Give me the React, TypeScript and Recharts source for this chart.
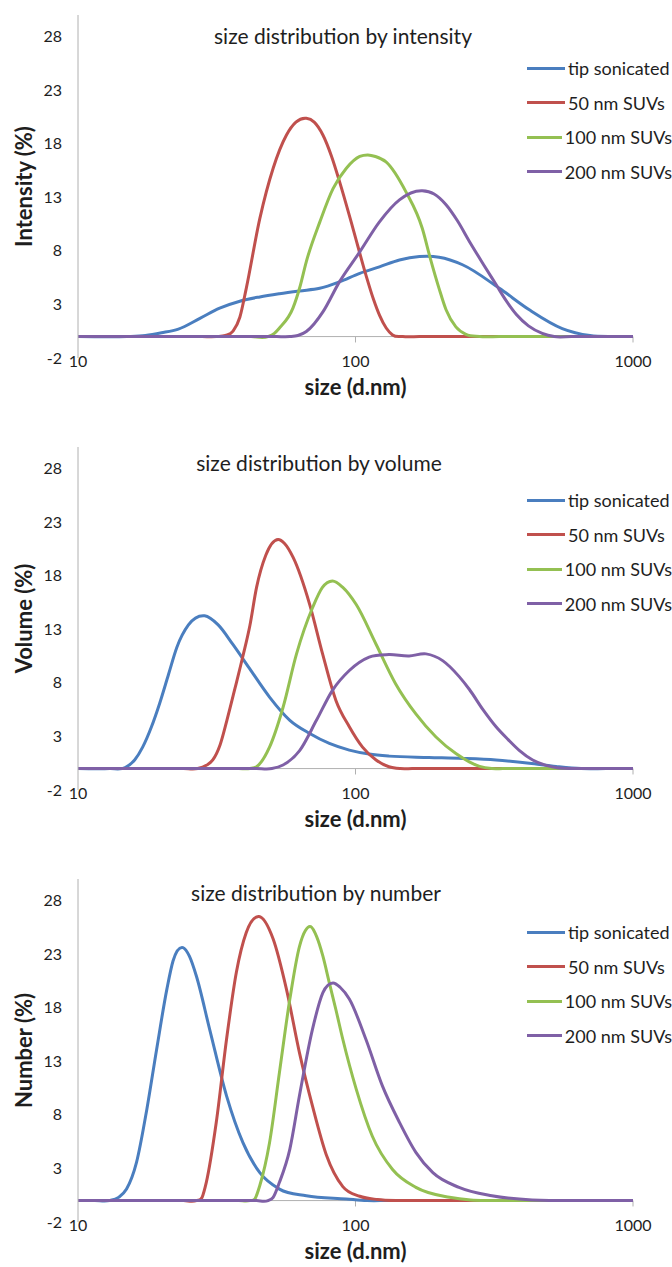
import { Legend, Line, LineChart, ReferenceLine, XAxis, YAxis } from "recharts";

type Pt = [number, number]; // [size d.nm, percent]

const sizeTicks = [10, 100, 1000];
const percentTicks = [-2, 3, 8, 13, 18, 23, 28];
const seriesNames = ["tip sonicated", "50 nm SUVs", "100 nm SUVs", "200 nm SUVs"];
const seriesColors = ["#4a7ebf", "#c0504d", "#94c052", "#7f60a6"];

// by intensity
const intensityTip: Pt[] = [[10, 0], [15, 0], [17.5, 0.1], [20, 0.35], [23, 0.7], [27.5, 1.7], [32.4, 2.65], [38.3, 3.3], [45.2, 3.7], [53.2, 4.0], [62.8, 4.26], [74.3, 4.5], [87.5, 5.1], [103.6, 5.9], [122, 6.5], [144, 7.15], [170, 7.46], [200, 7.4], [243, 6.7], [330, 4.5], [423, 2.5], [556, 0.75], [700, 0.1], [850, 0], [1000, 0]];
const intensity50: Pt[] = [[10, 0], [28, 0], [31.5, 0], [34, 0.1], [36.2, 0.5], [38.3, 1.8], [40.4, 4.5], [45.2, 11], [50.5, 15.7], [56.4, 18.8], [61, 20], [66.5, 20.36], [71, 20], [76.3, 18.8], [82, 16.8], [87.5, 14.5], [97.9, 10.1], [109, 5.75], [116, 3.5], [122, 2.0], [129, 0.8], [136, 0.15], [148, 0], [170, 0], [1000, 0]];
const intensity100: Pt[] = [[10, 0], [42, 0], [48.4, 0], [51, 0.3], [53.2, 0.8], [59.5, 2.65], [63, 4.6], [66.5, 7.0], [74.4, 10.7], [83, 13.8], [92.7, 15.7], [103.6, 16.8], [110.8, 16.95], [118, 16.8], [128.8, 16.3], [152, 13.5], [174, 10.1], [186, 7.3], [200, 4.5], [212, 2.5], [230, 0.9], [250, 0.2], [280, 0], [330, 0], [1000, 0]];
const intensity200: Pt[] = [[10, 0], [52, 0], [58, 0], [62, 0.1], [66.5, 0.47], [71, 1.2], [76.3, 2.3], [87.5, 5.1], [103.6, 7.9], [122, 10.7], [144, 12.75], [174, 13.6], [192, 13.3], [212, 12.3], [233, 10.8], [257, 8.9], [288, 6.8], [321, 4.85], [350, 3.3], [380, 2.05], [420, 1.0], [471, 0.3], [520, 0], [600, 0], [1000, 0]];

// by volume
const volumeTip: Pt[] = [[10, 0], [13, 0], [14.8, 0.1], [16, 0.8], [17.1, 2.0], [18.4, 3.9], [19.7, 6.1], [21.2, 8.8], [22.7, 11.3], [25, 13.4], [28.6, 14.25], [32, 13.4], [36.1, 11.6], [41.6, 9.3], [49, 6.67], [58, 4.5], [68.4, 3.27], [80.5, 2.34], [95, 1.72], [112, 1.35], [132, 1.16], [184, 1.04], [243, 0.95], [321, 0.8], [423, 0.5], [528, 0.2], [650, 0], [800, 0], [1000, 0]];
const volume50: Pt[] = [[10, 0], [24, 0], [27, 0], [29, 0.3], [30.6, 0.8], [32.5, 2.2], [34.4, 4.5], [36.8, 7.5], [39.3, 10.5], [41.6, 13.3], [44, 16.9], [47.5, 19.9], [52.6, 21.37], [55.5, 21.0], [59.6, 19.7], [68.4, 15.3], [76.1, 10.7], [85, 6.36], [95, 3.9], [106, 2.0], [118.6, 0.8], [132, 0.17], [145, 0], [160, 0], [1000, 0]];
const volume100: Pt[] = [[10, 0], [38, 0], [41.6, 0], [44, 0.17], [49, 2.0], [54.8, 5.7], [61.3, 10.7], [70, 15.0], [76, 16.9], [82.6, 17.5], [90, 16.9], [100.6, 15.3], [118.6, 11.6], [139.6, 7.9], [165, 5.1], [195, 2.95], [230, 1.4], [257, 0.63], [280, 0.2], [310, 0], [340, 0], [1000, 0]];
const volume200: Pt[] = [[10, 0], [44, 0], [50, 0], [54.8, 0.33], [63, 1.7], [72.3, 4.5], [82.6, 7.3], [95, 9.15], [112, 10.4], [132, 10.63], [156, 10.5], [179.5, 10.7], [206, 10.07], [236, 8.6], [257, 7.4], [288, 5.5], [321, 3.9], [355, 2.7], [389, 1.7], [435, 0.8], [486, 0.3], [540, 0.05], [600, 0], [650, 0], [1000, 0]];

// by number
const numberTip: Pt[] = [[10, 0], [11.5, 0], [13, 0], [14, 0.3], [14.96, 1.07], [16.25, 3.56], [17.7, 8.5], [19.2, 14.1], [20.9, 19.7], [22, 22.35], [23.9, 23.6], [25.2, 22.8], [26.7, 20.95], [29.8, 16.0], [34.3, 9.77], [39.3, 5.4], [45.2, 2.6], [53.2, 1.07], [66.5, 0.45], [92.7, 0.15], [110, 0], [130, 0], [1000, 0]];
const number50: Pt[] = [[10, 0], [24, 0], [26.7, 0], [28, 0.3], [29, 1.7], [31.5, 7.3], [34.3, 15.05], [37.2, 21.27], [40.4, 25.0], [44.9, 26.5], [50.5, 24.4], [56.4, 19.7], [62.8, 13.8], [70, 8.8], [78.4, 4.3], [90, 1.3], [103.6, 0.4], [120, 0.1], [140, 0], [160, 0], [1000, 0]];
const number100: Pt[] = [[10, 0], [38, 0], [41.6, 0], [43.5, 0.2], [45.2, 1.4], [49, 5.4], [53.2, 11.95], [58, 18.8], [62.8, 23.7], [66, 25.2], [69, 25.55], [72.5, 24.6], [76.3, 22.8], [80.5, 20.3], [85, 17.8], [90, 15.05], [100.6, 10.4], [115, 6.0], [136, 2.9], [165, 1.23], [218, 0.3], [260, 0.05], [300, 0], [340, 0], [1000, 0]];
const number200: Pt[] = [[10, 0], [44, 0], [48.4, 0], [50.5, 0.3], [53.2, 1.7], [58, 4.8], [62.8, 9.77], [70, 16.0], [76.3, 19.4], [83, 20.3], [88, 19.9], [95, 18.8], [109, 15.05], [125, 10.7], [144, 7.3], [165, 4.5], [190, 2.6], [236, 1.23], [310, 0.45], [433, 0.05], [500, 0], [560, 0], [1000, 0]];

const FONT = "Lato, 'Open Sans', sans-serif";
const AXIS_GREY = "#b0b0b0";
const TEXT = "#1e1e1e";

// Smoothed line like Excel's: cubic Hermite through every point, slopes from
// the neighbouring secants (not clamped, so the feet dip slightly below 0).
// Recharts accepts any d3-style curve factory as Line type.
function excelSmooth(context: any) {
  let xs: number[] = [];
  let ys: number[] = [];
  return {
    areaStart() {},
    areaEnd() {},
    lineStart() {
      xs = [];
      ys = [];
    },
    point(x: number, y: number) {
      xs.push(x);
      ys.push(y);
    },
    lineEnd() {
      const n = xs.length;
      if (!n) return;
      context.moveTo(xs[0], ys[0]);
      if (n === 1) return;
      const slope = xs.map((_, i) => {
        if (i === 0) return (ys[1] - ys[0]) / (xs[1] - xs[0]);
        if (i === n - 1) return (ys[n - 1] - ys[n - 2]) / (xs[n - 1] - xs[n - 2]);
        const h0 = xs[i] - xs[i - 1];
        const h1 = xs[i + 1] - xs[i];
        const s0 = (ys[i] - ys[i - 1]) / h0;
        const s1 = (ys[i + 1] - ys[i]) / h1;
        return (s0 * h1 + s1 * h0) / (h0 + h1);
      });
      for (let i = 0; i < n - 1; i++) {
        const dx = (xs[i + 1] - xs[i]) / 3;
        context.bezierCurveTo(
          xs[i] + dx,
          ys[i] + slope[i] * dx,
          xs[i + 1] - dx,
          ys[i + 1] - slope[i + 1] * dx,
          xs[i + 1],
          ys[i + 1]
        );
      }
    },
  };
}

const toRows = (pts: Pt[]) => pts.map(([size, value]) => ({ size, value }));

function SizeTick({ x, y, payload }: any) {
  return (
    <text x={x} y={y + 9} textAnchor="middle" fill={TEXT} fontSize={16}>
      {payload.value}
    </text>
  );
}

function XTitle({ viewBox }: any) {
  return (
    <text x={viewBox.x + viewBox.width / 2} y={viewBox.y + 37} textAnchor="middle" fill={TEXT} fontSize={22} fontWeight="bold">
      size (d.nm)
    </text>
  );
}

function YTitle({ viewBox, text }: any) {
  const cx = 23;
  const cy = viewBox.y + viewBox.height / 2;
  return (
    <text x={cx} y={cy} transform={`rotate(-90 ${cx} ${cy})`} textAnchor="middle" dominantBaseline="central" fill={TEXT} fontSize={22} fontWeight="bold">
      {text}
    </text>
  );
}

function SeriesKey() {
  return (
    <div style={{ fontSize: 18, color: TEXT }}>
      {seriesNames.map((name, i) => (
        <div key={name} style={{ display: "flex", alignItems: "center", height: 34.5, whiteSpace: "nowrap" }}>
          <span style={{ display: "inline-block", width: 38, height: 3, background: seriesColors[i], marginRight: 3 }} />
          {name}
        </div>
      ))}
    </div>
  );
}

function SizeChart({
  top,
  title,
  titleX,
  titleY,
  yLabel,
  series,
}: {
  top: number;
  title: string;
  titleX: number;
  titleY: number;
  yLabel: string;
  series: Pt[][];
}) {
  return (
    <div style={{ position: "absolute", left: 0, top, width: 672, height: 403, fontFamily: FONT }}>
      <LineChart width={672} height={403} margin={{ top: 15, right: 39, bottom: 0, left: 0 }}>
        <XAxis
          dataKey="size"
          type="number"
          scale="log"
          domain={[10, 1000]}
          ticks={sizeTicks}
          allowDataOverflow
          axisLine={false}
          tickLine={false}
          tickSize={0}
          tickMargin={0}
          height={45}
          tick={<SizeTick />}
          label={<XTitle />}
        />
        <YAxis
          type="number"
          domain={[-2, 30]}
          ticks={percentTicks}
          allowDataOverflow
          width={78}
          axisLine={{ stroke: AXIS_GREY }}
          tickLine={false}
          tickSize={0}
          tickMargin={16}
          tick={{ fill: TEXT, fontSize: 16 }}
          label={<YTitle text={yLabel} />}
        />
        <ReferenceLine y={0} stroke={AXIS_GREY} />
        {sizeTicks.slice(1).map((t) => (
          <ReferenceLine
            key={t}
            segment={[
              { x: t, y: 0 },
              { x: t, y: -0.55 },
            ]}
            stroke={AXIS_GREY}
          />
        ))}
        {series.map((pts, i) => (
          <Line
            key={seriesNames[i]}
            data={toRows(pts)}
            dataKey="value"
            name={seriesNames[i]}
            type={excelSmooth as any}
            stroke={seriesColors[i]}
            strokeWidth={3}
            strokeLinejoin="round"
            dot={false}
            activeDot={false}
            isAnimationActive={false}
          />
        ))}
        <Legend
          layout="horizontal"
          verticalAlign="middle"
          align="center"
          wrapperStyle={{ left: 527, top: 51, width: 145 }}
          content={<SeriesKey />}
        />
      </LineChart>
      <div
        style={{
          position: "absolute",
          left: titleX,
          top: titleY,
          transform: "translate(-50%, -50%)",
          fontSize: 21,
          color: TEXT,
          whiteSpace: "nowrap",
        }}
      >
        {title}
      </div>
    </div>
  );
}

export default function App() {
  return (
    <div style={{ position: "absolute", left: 0, top: 0, width: 672, height: 1267, background: "#fff", overflow: "hidden" }}>
      <SizeChart
        top={0}
        title="size distribution by intensity"
        titleX={343}
        titleY={35}
        yLabel="Intensity (%)"
        series={[intensityTip, intensity50, intensity100, intensity200]}
      />
      <SizeChart
        top={432}
        title="size distribution by volume"
        titleX={319}
        titleY={30}
        yLabel="Volume (%)"
        series={[volumeTip, volume50, volume100, volume200]}
      />
      <SizeChart
        top={864}
        title="size distribution by number"
        titleX={316}
        titleY={28}
        yLabel="Number (%)"
        series={[numberTip, number50, number100, number200]}
      />
    </div>
  );
}
